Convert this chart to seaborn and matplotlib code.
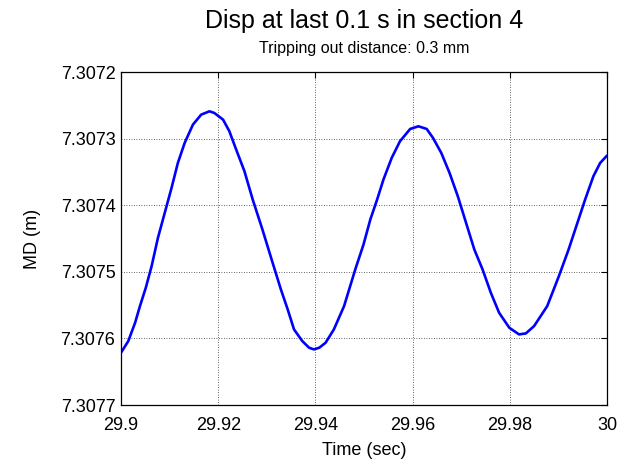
import matplotlib
matplotlib.use("Agg")
import matplotlib.pyplot as plt
import seaborn as sns
import pandas as pd
from matplotlib.ticker import FormatStrFormatter

time_s = [29.9000, 29.9015, 29.9029, 29.9039, 29.9051, 29.9063, 29.9076, 29.9090,
          29.9104, 29.9117, 29.9131, 29.9148, 29.9165, 29.9182, 29.9192, 29.9210,
          29.9223, 29.9237, 29.9254, 29.9271, 29.9291, 29.9312, 29.9329, 29.9343,
          29.9356, 29.9373, 29.9387, 29.9397, 29.9408, 29.9421, 29.9438, 29.9459,
          29.9482, 29.9499, 29.9513, 29.9527, 29.9540, 29.9557, 29.9574, 29.9595,
          29.9612, 29.9629, 29.9642, 29.9659, 29.9676, 29.9693, 29.9710, 29.9727,
          29.9744, 29.9761, 29.9778, 29.9799, 29.9819, 29.9833, 29.9850, 29.9877,
          29.9901, 29.9921, 29.9938, 29.9955, 29.9972, 29.9986, 30.0000]
md_m = [7.3076215, 7.3076040, 7.3075765, 7.3075515, 7.3075240, 7.3074915, 7.3074490, 7.3074115,
        7.3073740, 7.3073365, 7.3073065, 7.3072790, 7.3072640, 7.3072590, 7.3072615, 7.3072715,
        7.3072890, 7.3073165, 7.3073490, 7.3073915, 7.3074365, 7.3074865, 7.3075265, 7.3075565,
        7.3075865, 7.3076040, 7.3076140, 7.3076165, 7.3076140, 7.3076065, 7.3075865, 7.3075515,
        7.3074965, 7.3074590, 7.3074215, 7.3073915, 7.3073615, 7.3073290, 7.3073040, 7.3072855,
        7.3072815, 7.3072855, 7.3072990, 7.3073215, 7.3073515, 7.3073865, 7.3074265, 7.3074665,
        7.3074965, 7.3075315, 7.3075615, 7.3075840, 7.3075940, 7.3075925, 7.3075815, 7.3075515,
        7.3075065, 7.3074665, 7.3074290, 7.3073915, 7.3073565, 7.3073365, 7.3073255]

x_ticks = [29.9, 29.92, 29.94, 29.96, 29.98, 30.0]
x_tick_labels = ["29.9", "29.92", "29.94", "29.96", "29.98", "30"]
y_ticks = [7.3072, 7.3073, 7.3074, 7.3075, 7.3076, 7.3077]

title = "Disp at last 0.1 s in section 4"
subtitle = "Tripping out distance: 0.3 mm"

df = pd.DataFrame({"t": time_s, "md": md_m})

sns.set_style("white")
plt.rcParams["font.family"] = ["Liberation Sans", "DejaVu Sans"]
plt.rcParams["text.color"] = "black"
plt.rcParams["axes.labelcolor"] = "black"

fig = plt.figure(figsize=(6.29, 4.65), dpi=100)
ax = fig.add_axes([121/629, 1 - 405/465, (607-121)/629, (405-72)/465])

sns.lineplot(data=df, x="t", y="md", ax=ax, color="#0000ff", linewidth=1.9,
             estimator=None, sort=False)

ax.set_xlim(29.9, 30.0)
ax.set_ylim(7.3077, 7.3072)
ax.set_xticks(x_ticks)
ax.set_xticklabels(x_tick_labels)
ax.set_yticks(y_ticks)
ax.yaxis.set_major_formatter(FormatStrFormatter("%.4f"))

ax.grid(True, color="#333333", linestyle=(0, (1, 2)), linewidth=0.6)
ax.tick_params(direction="in", length=4, width=0.8, top=True, right=True,
               labelsize=13, colors="black")
ax.tick_params(axis="x", pad=8.5)
ax.tick_params(axis="y", pad=4)
for s in ax.spines.values():
    s.set_visible(True)
    s.set_color("black")
    s.set_linewidth(0.9)

ax.set_xlabel("Time (sec)", fontsize=13, labelpad=6, color="black")
ax.set_ylabel("MD (m)", fontsize=13, labelpad=14, color="black")

cx = (121 + 607) / 2 / 629
fig.text(cx, 1 - 21/465, title, ha="center", va="center", fontsize=18, color="black")
fig.text(cx, 1 - 49/465, subtitle, ha="center", va="center", fontsize=11.5, color="black")

fig.savefig("out.png", dpi=100, facecolor="white")
